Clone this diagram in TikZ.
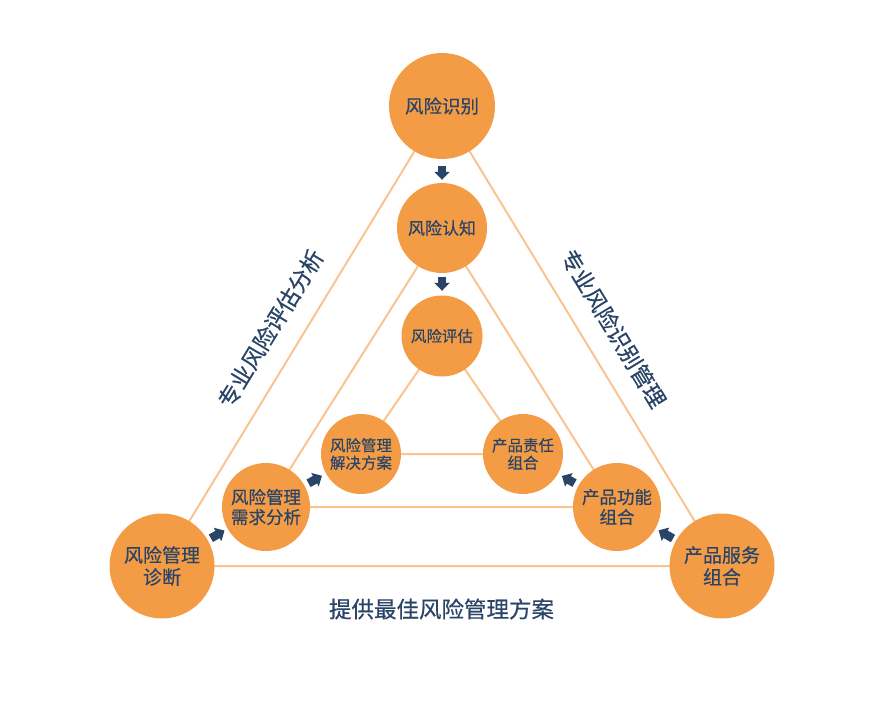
\documentclass[tikz,border=0pt]{standalone}
\usepackage{fontspec}
\newfontfamily\cjk[RawFeature={embolden=0.5}]{Noto Sans CJK SC}
\usetikzlibrary{arrows.meta,backgrounds}
\definecolor{circ}{HTML}{F39C45}
\definecolor{lin}{HTML}{F9C48F}
\definecolor{navy}{HTML}{2A4467}
\begin{document}
\begin{tikzpicture}[x=1pt,y=-1pt,
  bub/.style={circle,fill=circ,inner sep=0pt,align=center,text=navy},
  tri/.style={draw=lin,line width=2pt,line join=round},
  barrow/.style={navy,line width=8.5pt,-{Triangle[length=8pt,width=15pt]}},
  lbl/.style={text=navy,inner sep=0pt,font=\cjk\fontsize{22.5}{24}\selectfont}]
\useasboundingbox (0,0) rectangle (873,706);
% outer
\node[bub,minimum size=106pt,font=\cjk\fontsize{18.5}{20}\selectfont] (shibie) at (442,106) {风险识别};
\node[bub,minimum size=105pt,font=\cjk\fontsize{19}{22}\selectfont] (zhenduan) at (162,566) {风险管理\\诊断};
\node[bub,minimum size=105pt,font=\cjk\fontsize{19}{22}\selectfont] (fuwu) at (722,566) {产品服务\\组合};
% middle
\node[bub,minimum size=90pt,font=\cjk\fontsize{17}{19}\selectfont] (renzhi) at (442,228) {风险认知};
\node[bub,minimum size=88pt,font=\cjk\fontsize{17.5}{20}\selectfont] (xuqiu) at (266,507) {风险管理\\需求分析};
\node[bub,minimum size=88pt,font=\cjk\fontsize{17.5}{20}\selectfont] (gongneng) at (617,507) {产品功能\\组合};
% inner
\node[bub,minimum size=81pt,font=\cjk\fontsize{15.5}{17.5}\selectfont] (pinggu) at (442,336) {风险评估};
\node[bub,minimum size=80pt,font=\cjk\fontsize{15.5}{17.5}\selectfont] (jiejue) at (361,454) {风险管理\\解决方案};
\node[bub,minimum size=80pt,font=\cjk\fontsize{15.5}{17.5}\selectfont] (zeren) at (523,454) {产品责任\\组合};
% triangles
\begin{scope}[on background layer]
\draw[tri] (shibie.center) -- (zhenduan.center) -- (fuwu.center) -- cycle;
\draw[tri] (renzhi.center) -- (xuqiu.center) -- (gongneng.center) -- cycle;
\draw[tri] (pinggu.center) -- (jiejue.center) -- (zeren.center) -- cycle;
\end{scope}
% arrows
\draw[barrow,shorten <=7pt,shorten >=3pt] (shibie) -- (renzhi);
\draw[barrow,shorten <=4pt,shorten >=4.5pt] (renzhi) -- (pinggu);
\draw[barrow,shorten <=3.5pt,shorten >=3.5pt] (zhenduan) -- (xuqiu);
\draw[barrow,shorten <=4.5pt,shorten >=4.5pt] (xuqiu) -- (jiejue);
\draw[barrow,shorten <=3.5pt,shorten >=3.5pt] (fuwu) -- (gongneng);
\draw[barrow,shorten <=4.5pt,shorten >=4.5pt] (gongneng) -- (zeren);
% labels
\node[lbl,rotate=58.7] (lt) at (270.5,328.5) {专业风险评估分析};
\node[lbl,rotate=-58.7] (rt) at (613.5,328.5) {专业风险识别管理};
\node[lbl] (bt) at (441.5,609) {提供最佳风险管理方案};
\end{tikzpicture}
\end{document}
